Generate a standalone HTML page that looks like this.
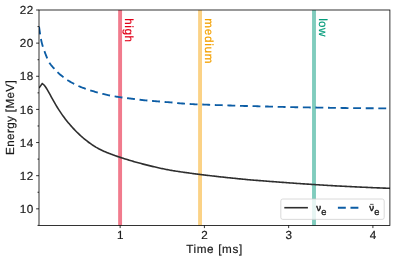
<!DOCTYPE html>
<html><head><meta charset="utf-8"><title>chart</title>
<style>html,body{margin:0;padding:0;background:#fff;}svg{display:block;will-change:transform;}text{font-family:"Liberation Sans",sans-serif;text-rendering:geometricPrecision;}.d{fill:#1a1a1a;stroke:#1a1a1a;stroke-width:0.2px;stroke-linejoin:round;}</style></head>
<body>
<svg width="398" height="261" viewBox="0 0 398 261">
<rect width="398" height="261" fill="#fff"/>
<defs><clipPath id="ax"><rect x="39.0" y="10.0" width="350.9" height="215.4"/></clipPath></defs>
<rect x="118.15" y="10.0" width="3.9" height="215.4" fill="#f17b8d"/>
<rect x="198.10" y="10.0" width="3.9" height="215.4" fill="#fbd286"/>
<rect x="312.05" y="10.0" width="3.9" height="215.4" fill="#80ccbd"/>
<g clip-path="url(#ax)" fill="none" stroke-linejoin="miter">
<path d="M39.0 88.0 L42.24 83.6 L43.24 84.28 L44.24 85.26 L45.24 86.54 L46.24 88.02 L47.24 89.65 L48.24 91.37 L49.24 93.14 L50.24 94.95 L51.24 96.77 L52.24 98.58 L53.24 100.37 L54.24 102.14 L55.24 103.88 L56.24 105.57 L57.24 107.23 L58.24 108.84 L59.24 110.41 L60.24 111.93 L61.24 113.40 L62.24 114.84 L63.24 116.23 L64.24 117.58 L65.24 118.90 L66.24 120.19 L67.24 121.44 L68.24 122.66 L69.24 123.85 L70.24 125.02 L71.24 126.15 L72.24 127.26 L73.24 128.35 L74.24 129.41 L75.24 130.45 L76.24 131.46 L77.24 132.46 L78.24 133.43 L79.24 134.39 L80.24 135.32 L81.24 136.23 L82.24 137.12 L83.24 137.99 L84.24 138.83 L85.24 139.66 L86.24 140.46 L87.24 141.24 L88.24 142.00 L89.24 142.74 L90.24 143.46 L91.24 144.16 L92.24 144.83 L93.24 145.49 L94.24 146.12 L95.24 146.73 L96.24 147.33 L97.24 147.90 L98.24 148.45 L99.24 148.99 L100.24 149.50 L101.24 150.00 L102.24 150.48 L103.24 150.95 L104.24 151.40 L105.24 151.84 L106.24 152.27 L107.24 152.68 L108.24 153.08 L109.24 153.48 L110.24 153.87 L111.24 154.24 L112.24 154.61 L113.24 154.98 L114.24 155.34 L115.24 155.69 L116.24 156.04 L117.24 156.38 L118.24 156.72 L119.24 157.05 L120.24 157.38 L121.24 157.71 L122.24 158.03 L123.24 158.35 L124.24 158.66 L125.24 158.96 L126.24 159.27 L127.24 159.57 L128.24 159.87 L129.24 160.17 L130.24 160.47 L131.24 160.77 L132.24 161.07 L133.24 161.37 L134.24 161.66 L135.24 161.95 L136.24 162.23 L137.24 162.51 L138.24 162.79 L139.24 163.06 L140.24 163.33 L141.24 163.60 L142.24 163.86 L143.24 164.13 L144.24 164.38 L145.24 164.64 L146.24 164.89 L147.24 165.14 L148.24 165.39 L149.24 165.64 L150.24 165.88 L151.24 166.12 L152.24 166.36 L153.24 166.60 L154.24 166.83 L155.24 167.07 L156.24 167.30 L157.24 167.53 L158.24 167.76 L159.24 167.98 L160.24 168.20 L161.24 168.41 L162.24 168.63 L163.24 168.83 L164.24 169.04 L165.24 169.24 L166.24 169.43 L167.24 169.62 L168.24 169.81 L169.24 170.00 L170.24 170.18 L171.24 170.35 L172.24 170.52 L173.24 170.69 L174.24 170.86 L175.24 171.02 L176.24 171.18 L177.24 171.33 L178.24 171.48 L179.24 171.63 L180.24 171.78 L181.24 171.92 L182.24 172.06 L183.24 172.21 L184.24 172.35 L185.24 172.49 L186.24 172.63 L187.24 172.77 L188.24 172.91 L189.24 173.05 L190.24 173.18 L191.24 173.32 L192.24 173.45 L193.24 173.59 L194.24 173.72 L195.24 173.85 L196.24 173.98 L197.24 174.11 L198.24 174.24 L199.24 174.37 L200.24 174.49 L201.24 174.62 L202.24 174.74 L203.24 174.86 L204.24 174.98 L205.24 175.10 L206.24 175.22 L207.24 175.33 L208.24 175.45 L209.24 175.57 L210.24 175.69 L211.24 175.80 L212.24 175.92 L213.24 176.04 L214.24 176.15 L215.24 176.27 L216.24 176.38 L217.24 176.50 L218.24 176.61 L219.24 176.72 L220.24 176.84 L221.24 176.95 L222.24 177.06 L223.24 177.17 L224.24 177.28 L225.24 177.39 L226.24 177.49 L227.24 177.60 L228.24 177.70 L229.24 177.80 L230.24 177.91 L231.24 178.01 L232.24 178.12 L233.24 178.22 L234.24 178.32 L235.24 178.42 L236.24 178.53 L237.24 178.63 L238.24 178.73 L239.24 178.83 L240.24 178.92 L241.24 179.02 L242.24 179.12 L243.24 179.22 L244.24 179.31 L245.24 179.40 L246.24 179.50 L247.24 179.59 L248.24 179.68 L249.24 179.76 L250.24 179.85 L251.24 179.93 L252.24 180.02 L253.24 180.10 L254.24 180.18 L255.24 180.26 L256.24 180.34 L257.24 180.42 L258.24 180.50 L259.24 180.58 L260.24 180.66 L261.24 180.74 L262.24 180.82 L263.24 180.90 L264.24 180.98 L265.24 181.06 L266.24 181.14 L267.24 181.21 L268.24 181.29 L269.24 181.37 L270.24 181.44 L271.24 181.52 L272.24 181.60 L273.24 181.67 L274.24 181.75 L275.24 181.82 L276.24 181.90 L277.24 181.97 L278.24 182.05 L279.24 182.12 L280.24 182.20 L281.24 182.27 L282.24 182.35 L283.24 182.42 L284.24 182.49 L285.24 182.57 L286.24 182.64 L287.24 182.71 L288.24 182.79 L289.24 182.86 L290.24 182.93 L291.24 183.00 L292.24 183.07 L293.24 183.15 L294.24 183.22 L295.24 183.29 L296.24 183.36 L297.24 183.43 L298.24 183.50 L299.24 183.56 L300.24 183.63 L301.24 183.70 L302.24 183.77 L303.24 183.84 L304.24 183.90 L305.24 183.97 L306.24 184.04 L307.24 184.10 L308.24 184.17 L309.24 184.24 L310.24 184.30 L311.24 184.37 L312.24 184.43 L313.24 184.50 L314.24 184.56 L315.24 184.63 L316.24 184.69 L317.24 184.76 L318.24 184.82 L319.24 184.88 L320.24 184.95 L321.24 185.01 L322.24 185.07 L323.24 185.13 L324.24 185.20 L325.24 185.26 L326.24 185.32 L327.24 185.38 L328.24 185.44 L329.24 185.50 L330.24 185.55 L331.24 185.61 L332.24 185.67 L333.24 185.72 L334.24 185.78 L335.24 185.83 L336.24 185.88 L337.24 185.94 L338.24 185.99 L339.24 186.04 L340.24 186.09 L341.24 186.15 L342.24 186.20 L343.24 186.25 L344.24 186.30 L345.24 186.35 L346.24 186.40 L347.24 186.45 L348.24 186.51 L349.24 186.56 L350.24 186.61 L351.24 186.66 L352.24 186.71 L353.24 186.76 L354.24 186.80 L355.24 186.85 L356.24 186.90 L357.24 186.95 L358.24 187.00 L359.24 187.05 L360.24 187.09 L361.24 187.14 L362.24 187.19 L363.24 187.23 L364.24 187.28 L365.24 187.32 L366.24 187.37 L367.24 187.41 L368.24 187.46 L369.24 187.50 L370.24 187.55 L371.24 187.59 L372.24 187.63 L373.24 187.68 L374.24 187.72 L375.24 187.76 L376.24 187.80 L377.24 187.84 L378.24 187.88 L379.24 187.92 L380.24 187.96 L381.24 188.00 L382.24 188.04 L383.24 188.08 L384.24 188.12 L385.24 188.15 L386.24 188.19 L387.24 188.23 L388.24 188.26 L389.24 188.30 L390.24 188.34 L391.00 188.36" stroke="#2e2e2e" stroke-width="1.6"/>
<path d="M39.00 26.30 L39.25 28.15 L39.50 29.94 L39.75 31.66 L40.00 33.32 L40.25 34.92 L40.50 36.49 L40.75 37.97 L41.00 39.30 L41.25 40.48 L41.50 41.60 L41.75 42.65 L42.00 43.65 L42.25 44.59 L42.50 45.48 L42.75 46.34 L43.00 47.14 L43.25 47.90 L43.50 48.62 L43.75 49.30 L44.00 49.97 L44.25 50.63 L44.50 51.30 L44.75 51.98 L45.00 52.65 L45.25 53.33 L45.50 54.00 L45.75 54.66 L46.00 55.32 L46.25 55.96 L46.50 56.59 L46.75 57.21 L47.00 57.81 L47.25 58.39 L47.50 58.96 L47.75 59.52 L48.00 60.07 L48.25 60.61 L48.50 61.13 L48.75 61.61 L49.00 62.07 L49.25 62.48 L49.50 62.88 L49.75 63.26 L50.00 63.62 L50.25 63.98 L50.50 64.32 L50.75 64.65 L51.00 64.98 L51.25 65.29 L51.50 65.60 L51.75 65.90 L52.00 66.19 L52.25 66.48 L52.50 66.77 L52.75 67.05 L53.00 67.33 L53.25 67.61 L53.50 67.88 L53.75 68.16 L54.00 68.44 L54.25 68.72 L54.50 69.01 L54.75 69.29 L55.00 69.58 L55.25 69.86 L55.50 70.14 L55.75 70.41 L56.00 70.68 L56.25 70.95 L56.50 71.21 L56.75 71.46 L57.00 71.71 L57.25 71.95 L57.50 72.19 L57.75 72.43 L58.00 72.66 L58.25 72.89 L58.50 73.11 L58.75 73.34 L59.00 73.56 L59.25 73.78 L59.50 73.99 L59.75 74.21 L60.00 74.42 L61.00 75.26 L62.00 76.07 L63.00 76.86 L64.00 77.65 L65.00 78.42 L66.00 79.16 L67.00 79.84 L68.00 80.47 L69.00 81.07 L70.00 81.65 L71.00 82.21 L72.00 82.75 L73.00 83.28 L74.00 83.81 L75.00 84.33 L76.00 84.85 L77.00 85.35 L78.00 85.82 L79.00 86.26 L80.00 86.68 L81.00 87.09 L82.00 87.49 L83.00 87.87 L84.00 88.24 L85.00 88.61 L86.00 88.96 L87.00 89.29 L88.00 89.60 L89.00 89.91 L90.00 90.22 L91.00 90.53 L92.00 90.85 L93.00 91.16 L94.00 91.47 L95.00 91.78 L96.00 92.09 L97.00 92.38 L98.00 92.67 L99.00 92.95 L100.00 93.22 L101.00 93.48 L102.00 93.73 L103.00 93.97 L104.00 94.21 L105.00 94.44 L106.00 94.66 L107.00 94.89 L108.00 95.10 L109.00 95.31 L110.00 95.51 L111.00 95.71 L112.00 95.90 L113.00 96.08 L114.00 96.25 L115.00 96.42 L116.00 96.58 L117.00 96.74 L118.00 96.89 L119.00 97.04 L120.00 97.19 L121.00 97.33 L122.00 97.47 L123.00 97.61 L124.00 97.74 L125.00 97.86 L126.00 97.99 L127.00 98.11 L128.00 98.24 L129.00 98.37 L130.00 98.49 L131.00 98.61 L132.00 98.74 L133.00 98.86 L134.00 98.99 L135.00 99.12 L136.00 99.25 L137.00 99.39 L138.00 99.54 L139.00 99.67 L140.00 99.79 L141.00 99.90 L142.00 100.01 L143.00 100.11 L144.00 100.21 L145.00 100.30 L146.00 100.39 L147.00 100.48 L148.00 100.58 L149.00 100.67 L150.00 100.76 L151.00 100.84 L152.00 100.93 L153.00 101.01 L154.00 101.09 L155.00 101.16 L156.00 101.23 L157.00 101.31 L158.00 101.38 L159.00 101.46 L160.00 101.54 L161.00 101.62 L162.00 101.72 L163.00 101.81 L164.00 101.90 L165.00 101.99 L166.00 102.06 L167.00 102.13 L168.00 102.20 L169.00 102.27 L170.00 102.33 L171.00 102.40 L172.00 102.48 L173.00 102.57 L174.00 102.69 L175.00 102.82 L176.00 102.96 L177.00 103.08 L178.00 103.17 L179.00 103.25 L180.00 103.33 L181.00 103.40 L182.00 103.47 L183.00 103.54 L184.00 103.61 L185.00 103.68 L186.00 103.75 L187.00 103.82 L188.00 103.89 L189.00 103.96 L190.00 104.02 L191.00 104.08 L192.00 104.14 L193.00 104.20 L194.00 104.25 L195.00 104.30 L196.00 104.34 L197.00 104.38 L198.00 104.41 L199.00 104.43 L200.00 104.45 L201.00 104.47 L202.00 104.50 L203.00 104.53 L204.00 104.56 L205.00 104.59 L206.00 104.63 L207.00 104.67 L208.00 104.72 L209.00 104.76 L210.00 104.80 L211.00 104.85 L212.00 104.90 L213.00 104.95 L214.00 104.99 L215.00 105.03 L216.00 105.06 L217.00 105.08 L218.00 105.11 L219.00 105.13 L220.00 105.15 L221.00 105.17 L222.00 105.20 L223.00 105.23 L224.00 105.28 L225.00 105.32 L226.00 105.37 L227.00 105.42 L228.00 105.45 L229.00 105.48 L230.00 105.50 L231.00 105.52 L232.00 105.55 L233.00 105.57 L234.00 105.60 L235.00 105.63 L236.00 105.66 L237.00 105.71 L238.00 105.76 L239.00 105.81 L240.00 105.85 L241.00 105.88 L242.00 105.91 L243.00 105.94 L244.00 105.97 L245.00 105.99 L246.00 106.01 L247.00 106.03 L248.00 106.05 L249.00 106.06 L250.00 106.07 L251.00 106.08 L252.00 106.09 L253.00 106.11 L254.00 106.14 L255.00 106.17 L256.00 106.20 L257.00 106.24 L258.00 106.27 L259.00 106.31 L260.00 106.34 L261.00 106.37 L262.00 106.39 L263.00 106.41 L264.00 106.43 L265.00 106.45 L266.00 106.48 L267.00 106.50 L268.00 106.52 L269.00 106.55 L270.00 106.57 L271.00 106.60 L272.00 106.63 L273.00 106.66 L274.00 106.69 L275.00 106.72 L276.00 106.76 L277.00 106.79 L278.00 106.82 L279.00 106.85 L280.00 106.87 L281.00 106.90 L282.00 106.92 L283.00 106.95 L284.00 106.97 L285.00 106.99 L286.00 107.02 L287.00 107.04 L288.00 107.07 L289.00 107.09 L290.00 107.11 L291.00 107.13 L292.00 107.15 L293.00 107.17 L294.00 107.19 L295.00 107.21 L296.00 107.23 L297.00 107.25 L298.00 107.26 L299.00 107.28 L300.00 107.29 L301.00 107.30 L302.00 107.31 L303.00 107.32 L304.00 107.34 L305.00 107.35 L306.00 107.38 L307.00 107.40 L308.00 107.42 L309.00 107.44 L310.00 107.46 L311.00 107.47 L312.00 107.49 L313.00 107.50 L314.00 107.51 L315.00 107.52 L316.00 107.53 L317.00 107.55 L318.00 107.57 L319.00 107.59 L320.00 107.61 L321.00 107.63 L322.00 107.65 L323.00 107.67 L324.00 107.69 L325.00 107.71 L326.00 107.74 L327.00 107.76 L328.00 107.78 L329.00 107.79 L330.00 107.81 L331.00 107.82 L332.00 107.83 L333.00 107.84 L334.00 107.86 L335.00 107.87 L336.00 107.88 L337.00 107.89 L338.00 107.90 L339.00 107.91 L340.00 107.93 L341.00 107.94 L342.00 107.96 L343.00 107.98 L344.00 108.00 L345.00 108.02 L346.00 108.04 L347.00 108.06 L348.00 108.07 L349.00 108.09 L350.00 108.10 L351.00 108.11 L352.00 108.13 L353.00 108.13 L354.00 108.14 L355.00 108.15 L356.00 108.16 L357.00 108.16 L358.00 108.17 L359.00 108.17 L360.00 108.18 L361.00 108.19 L362.00 108.20 L363.00 108.21 L364.00 108.22 L365.00 108.24 L366.00 108.24 L367.00 108.25 L368.00 108.26 L369.00 108.26 L370.00 108.27 L371.00 108.27 L372.00 108.28 L373.00 108.29 L374.00 108.29 L375.00 108.30 L376.00 108.32 L377.00 108.33 L378.00 108.34 L379.00 108.35 L380.00 108.37 L381.00 108.38 L382.00 108.39 L383.00 108.41 L384.00 108.42 L385.00 108.43 L386.00 108.44 L387.00 108.46 L388.00 108.47 L389.00 108.48 L390.00 108.49 L391.00 108.50" stroke="#0c5da5" stroke-width="1.85" stroke-dasharray="7.9 4.68" stroke-dashoffset="-0.3"/>
</g>
<rect x="39.0" y="10.0" width="350.9" height="215.4" fill="none" stroke="#000" stroke-width="0.8"/>
<path d="M36.10 208.83H39.0 M36.10 175.69H39.0 M36.10 142.55H39.0 M36.10 109.42H39.0 M36.10 76.28H39.0 M36.10 43.14H39.0 M36.10 10.00H39.0 M37.50 225.40H39.0 M37.50 192.26H39.0 M37.50 159.12H39.0 M37.50 125.98H39.0 M37.50 92.85H39.0 M37.50 59.71H39.0 M37.50 26.57H39.0 M120.15 225.4V228.10 M204.40 225.4V228.10 M288.65 225.4V228.10 M372.90 225.4V228.10" stroke="#000" stroke-width="0.8" fill="none"/>
<text x="33.6" y="212.93"  font-size="11.7" letter-spacing="0.39" text-anchor="end" class="d">10</text>
<text x="33.6" y="179.79"  font-size="11.7" letter-spacing="0.39" text-anchor="end" class="d">12</text>
<text x="33.6" y="146.65"  font-size="11.7" letter-spacing="0.39" text-anchor="end" class="d">14</text>
<text x="33.6" y="113.52"  font-size="11.7" letter-spacing="0.39" text-anchor="end" class="d">16</text>
<text x="33.6" y="80.38"  font-size="11.7" letter-spacing="0.39" text-anchor="end" class="d">18</text>
<text x="33.6" y="47.24"  font-size="11.7" letter-spacing="0.39" text-anchor="end" class="d">20</text>
<text x="33.6" y="14.10"  font-size="11.7" letter-spacing="0.39" text-anchor="end" class="d">22</text>
<text x="120.25" y="239.4"  font-size="11.7" text-anchor="middle" class="d">1</text>
<text x="204.50" y="239.4"  font-size="11.7" text-anchor="middle" class="d">2</text>
<text x="288.75" y="239.4"  font-size="11.7" text-anchor="middle" class="d">3</text>
<text x="373.00" y="239.4"  font-size="11.7" text-anchor="middle" class="d">4</text>
<text x="186.14" y="253.0"  font-size="11.7" letter-spacing="0.645" class="d">Time [ms]</text>
<text transform="translate(14.2 154.97) rotate(-90)"  font-size="11.7" letter-spacing="0.355" class="d">Energy [MeV]</text>
<text transform="translate(125.4 18.2) rotate(90)"  font-size="11.7" letter-spacing="0.59" fill="#e2001a" stroke="#e2001a" stroke-width="0.2">high</text>
<text transform="translate(205.4 18.2) rotate(90)"  font-size="11.7" letter-spacing="0.73" fill="#f3a000" stroke="#f3a000" stroke-width="0.2">medium</text>
<text transform="translate(319.3 18.2) rotate(90)"  font-size="11.7" letter-spacing="0.32" fill="#009b7a" stroke="#009b7a" stroke-width="0.2">low</text>
<rect x="280.8" y="199.0" width="103.4" height="20.4" rx="2" ry="2" fill="#fff" fill-opacity="0.8" stroke="#ccc" stroke-opacity="0.8" stroke-width="0.9"/>
<path d="M284.3 207.7H307.9" stroke="#2e2e2e" stroke-width="1.6"/>
<path d="M337.9 207.7H361" stroke="#0c5da5" stroke-width="1.85" stroke-dasharray="7.9 4.68"/>
<text x="316.3" y="210.8"  font-size="9.7" class="d" style="stroke-width:0.45px">ν</text>
<text x="321.2" y="214.75"  font-size="9.3" class="d" style="stroke-width:0.3px">e</text>
<text x="369.3" y="211.1"  font-size="9.7" class="d" style="stroke-width:0.45px">ν</text>
<path d="M370.1 204.35H373.5" stroke="#1a1a1a" stroke-width="0.75"/>
<text x="374.2" y="214.9"  font-size="9.3" class="d" style="stroke-width:0.3px">e</text>
</svg>
</body></html>
